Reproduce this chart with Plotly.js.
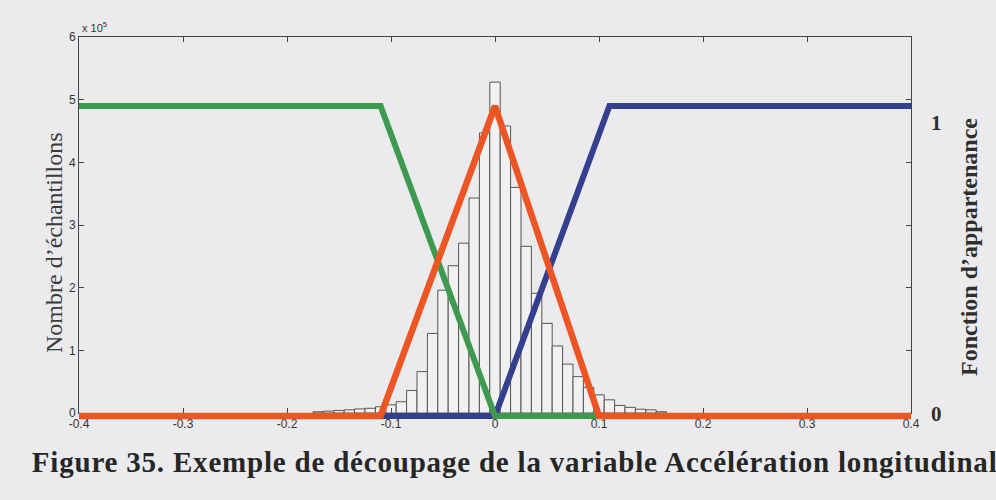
<!DOCTYPE html>
<html>
<head>
<meta charset="utf-8">
<script src="https://cdn.plot.ly/plotly-3.0.1.min.js"></script>
<style>
html,body{margin:0;padding:0;background:#ebebed;}
#chart{width:996px;height:500px;}
.infolayer .annotation[data-index="5"] text{letter-spacing:0.8px;}
</style>
</head>
<body>
<div id="chart"></div>
<script>
// Histogram: bin centres (acceleration) and counts (in units of 10^5)
const binCentres = [-0.17,-0.16,-0.15,-0.14,-0.13,-0.12,-0.11,-0.10,-0.09,-0.08,-0.07,-0.06,-0.05,-0.04,-0.03,-0.02,-0.01,0.00,
                    0.01,0.02,0.03,0.04,0.05,0.06,0.07,0.08,0.09,0.10,0.11,0.12,0.13,0.14,0.15,0.16];
const countsE5   = [0.02,0.03,0.04,0.05,0.065,0.075,0.10,0.13,0.18,0.36,0.66,1.27,1.96,2.35,2.71,3.43,4.47,5.28,
                    4.58,3.60,2.66,1.91,1.43,1.07,0.78,0.58,0.41,0.29,0.21,0.12,0.09,0.06,0.05,0.02];

// Membership functions (x breakpoints, membership degree)
const negX = [-0.4, -0.11, 0, 0.4];
const negY = [1, 1, 0, 0];
const zeroX = [-0.4, -0.11, 0, 0.10, 0.4];
const zeroY = [0, 0, 1, 0, 0];
const posX = [-0.4, 0, 0.11, 0.4];
const posY = [0, 0, 1, 1];

// Tick labels
const xTickVals = [-0.4,-0.3,-0.2,-0.1,0,0.1,0.2,0.3,0.4];
const xTickText = ['-0.4','-0.3','-0.2','-0.1','0','0.1','0.2','0.3','0.4'];
const yTickVals = [0,1,2,3,4,5,6];
const yTickText = ['0','1','2','3','4','5','6'];

const BG = '#ebebed';
const AX = '#444444';
const M = {l:79, r:85, t:37, b:77};
const W = 996, H = 500;
const PW = W - M.l - M.r, PH = H - M.t - M.b;
const px = x => (x - M.l) / PW;
const py = y => (H - M.b - y) / PH;

const traces = [
  {type:'bar', x:binCentres, y:countsE5, width:0.01, xaxis:'x', yaxis:'y',
   marker:{color:'#f1f1f1', line:{color:'#555555', width:1}}, hoverinfo:'skip'},
  {type:'scatter', mode:'lines', x:posX, y:posY, xaxis:'x', yaxis:'y2',
   line:{color:'#343f8f', width:6}, hoverinfo:'skip'},
  {type:'scatter', mode:'lines', x:negX, y:negY, xaxis:'x', yaxis:'y2',
   line:{color:'#3d9a4e', width:6}, hoverinfo:'skip'},
  {type:'scatter', mode:'lines', x:zeroX, y:zeroY, xaxis:'x', yaxis:'y2',
   line:{color:'#ee5524', width:6.5}, hoverinfo:'skip'}
];

const tickFont = {family:'Liberation Sans, Arial, sans-serif', size:12, color:'#333333'};
const serif = 'Liberation Serif, Times New Roman, serif';

const layout = {
  width:W, height:H, margin:M,
  paper_bgcolor:BG, plot_bgcolor:'rgba(0,0,0,0)',
  showlegend:false, bargap:0,
  xaxis:{range:[-0.4,0.4], anchor:'y', tickvals:xTickVals, ticktext:xTickText,
         ticks:'inside', ticklen:5, tickcolor:AX, showline:true, linecolor:AX, linewidth:1,
         mirror:'ticks', showgrid:false, zeroline:false, tickfont:tickFont},
  yaxis:{range:[0,6], domain:[10/PH,1], tickvals:yTickVals, ticktext:yTickText,
         ticks:'inside', ticklen:5, tickcolor:AX, showline:true, linecolor:AX, linewidth:1,
         mirror:'ticks', showgrid:false, zeroline:false, tickfont:tickFont},
  yaxis2:{range:[-0.0226,1.2226], domain:[0,1], anchor:'x', visible:false},
  annotations:[
    {text:'x 10<sup>5</sup>', xref:'paper', yref:'paper', x:px(80), y:py(27), xanchor:'left', yanchor:'middle',
     showarrow:false, font:{family:tickFont.family, size:11, color:'#333333'}},
    {text:'Nombre d’échantillons', xref:'paper', yref:'paper', x:px(39), y:py(243), textangle:-90,
     showarrow:false, font:{family:serif, size:24, color:'#3a3a3a'}},
    {text:'<b>Fonction d’appartenance</b>', xref:'paper', yref:'paper', x:px(984), y:py(247), textangle:-90,
     showarrow:false, font:{family:serif, size:24, color:'#2e2e2e'}},
    {text:'<b>1</b>', xref:'paper', yref:'paper', x:px(944), y:py(109),
     showarrow:false, font:{family:serif, size:21, color:'#2e2e2e'}},
    {text:'<b>0</b>', xref:'paper', yref:'paper', x:px(944), y:py(428),
     showarrow:false, font:{family:serif, size:21, color:'#2e2e2e'}},
    {text:'<b>Figure 35. Exemple de découpage de la variable Accélération longitudinale</b>',
     xref:'paper', yref:'paper', x:px(59), y:py(462), xanchor:'left', yanchor:'middle',
     showarrow:false, font:{family:serif, size:29, color:'#262626'}}
  ]
};

Plotly.newPlot('chart', traces, layout, {staticPlot:true, displayModeBar:false});
</script>
</body>
</html>
